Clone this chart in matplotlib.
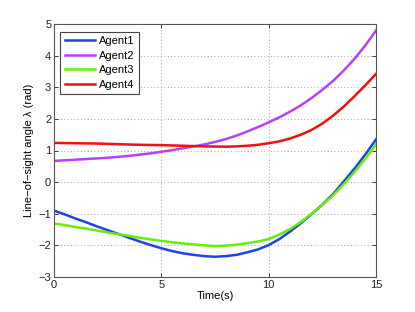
import matplotlib
matplotlib.use("Agg")
import matplotlib.pyplot as plt

t = [0, 0.5, 1, 1.5, 2, 2.5, 3, 3.5, 4, 4.5, 5, 5.5, 6, 6.5, 7, 7.5, 8, 8.5, 9, 9.5,
     10, 10.5, 11, 11.5, 12, 12.5, 13, 13.5, 14, 14.5, 15]
agent1 = [-0.90, -1.02, -1.15, -1.27, -1.40, -1.52, -1.64, -1.76, -1.88, -1.99, -2.09, -2.18,
          -2.25, -2.30, -2.34, -2.36, -2.34, -2.30, -2.22, -2.13, -1.99, -1.80, -1.56, -1.30,
          -1.01, -0.71, -0.38, 0.02, 0.43, 0.87, 1.35]
agent2 = [0.67, 0.69, 0.71, 0.73, 0.75, 0.77, 0.80, 0.83, 0.87, 0.91, 0.96, 1.01, 1.07, 1.13,
          1.19, 1.27, 1.36, 1.47, 1.60, 1.74, 1.89, 2.05, 2.23, 2.43, 2.66, 2.92, 3.20, 3.53,
          3.90, 4.32, 4.79]
agent3 = [-1.31, -1.36, -1.42, -1.47, -1.53, -1.59, -1.65, -1.70, -1.76, -1.81, -1.86, -1.90,
          -1.94, -1.97, -2.00, -2.02, -2.01, -1.98, -1.93, -1.88, -1.80, -1.66, -1.48, -1.26,
          -1.00, -0.72, -0.42, -0.06, 0.32, 0.74, 1.19]
agent4 = [1.24, 1.235, 1.23, 1.225, 1.22, 1.21, 1.20, 1.19, 1.18, 1.175, 1.17, 1.16, 1.15, 1.14,
          1.13, 1.125, 1.12, 1.13, 1.15, 1.18, 1.23, 1.29, 1.38, 1.50, 1.65, 1.85, 2.10, 2.39,
          2.72, 3.06, 3.42]

labels = ["Agent1", "Agent2", "Agent3", "Agent4"]
colors = ["#2040f0", "#b840f8", "#66f000", "#f01010"]
xticks = [0, 5, 10, 15]
yticks = [-3, -2, -1, 0, 1, 2, 3, 4, 5]

plt.rcParams['font.family'] = ['Liberation Sans', 'DejaVu Sans']
fig = plt.figure(figsize=(4.15, 3.12), dpi=100)
ax = fig.add_axes([54/415, 1 - 277/312, (376-54)/415, (277-24)/312])

for y, lab, c in zip([agent1, agent2, agent3, agent4], labels, colors):
    ax.plot(t, y, color=c, lw=1.8, label=lab, solid_joinstyle='round')

ax.set_xlim(0, 15)
ax.set_ylim(-3, 5)
ax.set_xticks(xticks)
ax.set_yticks(yticks)
ax.set_xticklabels([str(v) for v in xticks])
ax.set_yticklabels([str(v).replace('-', '\u2212') for v in yticks])
ax.grid(True, linestyle=(0, (1, 3)), color='#888888', lw=0.6)
ax.tick_params(direction='in', length=3, width=0.6, labelsize=8, top=True, right=True, colors='#222222', pad=2)
for s in ax.spines.values():
    s.set_color('#555555')
    s.set_linewidth(0.8)
ax.set_xlabel("Time(s)", fontsize=8, labelpad=1)
ax.set_ylabel("Line\u2212of\u2212sight angle \u03bb (rad)", fontsize=8, labelpad=3)
leg = ax.legend(loc='upper left', fontsize=8, fancybox=False, framealpha=1,
                edgecolor='#444444', handlelength=2.7, handletextpad=0.35, borderpad=0.4,
                labelspacing=0.42, borderaxespad=0, bbox_to_anchor=(0.02, 0.97))
leg.get_frame().set_linewidth(0.8)
fig.savefig("out.png", dpi=100)
